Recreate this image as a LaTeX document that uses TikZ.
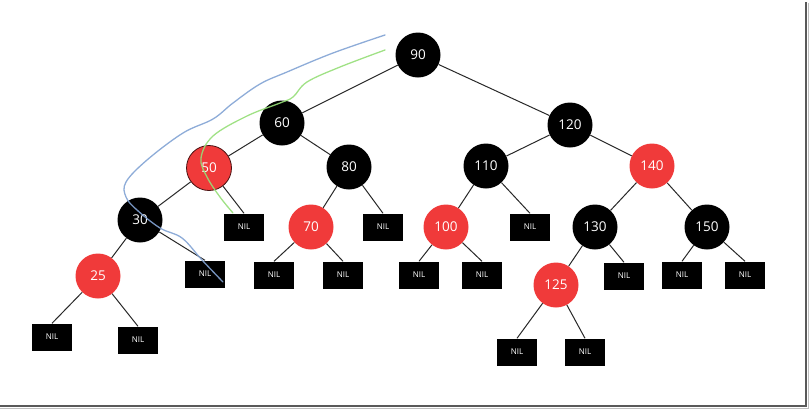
\documentclass[tikz,border=0pt]{standalone}
\usepackage{fontspec}
\setmainfont{Open Sans}
\definecolor{rbred}{RGB}{240,58,58}
\definecolor{curveblue}{RGB}{130,163,212}
\definecolor{curvegreen}{RGB}{150,222,120}
\definecolor{edgegray}{RGB}{40,40,40}
\begin{document}
\begin{tikzpicture}[x=1pt,y=-1pt,
  bnode/.style={circle,fill=black,minimum size=45pt,inner sep=0pt,text=white,font=\fontsize{13.5}{15}\selectfont},
  rnode/.style={circle,fill=rbred,minimum size=45pt,inner sep=0pt,text=white,font=\fontsize{13.5}{15}\selectfont},
  nilbox/.style={rectangle,fill=black,minimum width=40pt,minimum height=27pt,inner sep=0pt,text=white,font=\fontsize{8}{9}\selectfont},
  edge/.style={draw=edgegray,line width=1pt}]
\useasboundingbox (0,0) rectangle (809,410);
% frame shadow
\draw[line width=2.2pt,black!65] (806,2) -- (806,406) -- (0,406);
\draw[line width=1pt,black!25] (808,3) -- (808,408) -- (0,408);
% nodes
\node[bnode] (n90) at (418,55) {90};
\node[bnode] (n60) at (282,123) {60};
\node[bnode] (n120) at (570,125) {120};
\node[rnode,draw=black!70!rbred,line width=0.8pt] (n50) at (209,168) {50};
\node[bnode] (n80) at (349,167) {80};
\node[bnode] (n110) at (486,166) {110};
\node[rnode] (n140) at (652,166) {140};
\node[bnode] (n30) at (140,220) {30};
\node[rnode] (n70) at (311,227) {70};
\node[rnode] (n100) at (446,227) {100};
\node[bnode] (n130) at (595,227) {130};
\node[bnode] (n150) at (707,227) {150};
\node[rnode] (n25) at (98,276) {25};
\node[rnode] (n125) at (556,285) {125};
% NIL boxes
\node[nilbox] (x50) at (244,227) {NIL};
\node[nilbox] (x80) at (383,227) {NIL};
\node[nilbox] (x110) at (530,227) {NIL};
\node[nilbox] (x30) at (205,274) {NIL};
\node[nilbox] (x70a) at (274,275) {NIL};
\node[nilbox] (x70b) at (343,275) {NIL};
\node[nilbox] (x100a) at (419,275) {NIL};
\node[nilbox] (x100b) at (482,275) {NIL};
\node[nilbox] (x130) at (624,276) {NIL};
\node[nilbox] (x150a) at (682,275) {NIL};
\node[nilbox] (x150b) at (745,275) {NIL};
\node[nilbox] (x25a) at (52,337) {NIL};
\node[nilbox] (x25b) at (138,340) {NIL};
\node[nilbox] (x125a) at (517,352) {NIL};
\node[nilbox] (x125b) at (585,352) {NIL};
% edges
\draw[edge] (n90) -- (n60);
\draw[edge] (n90) -- (n120);
\draw[edge] (n60) -- (n50);
\draw[edge] (n60) -- (n80);
\draw[edge] (n120) -- (n110);
\draw[edge] (n120) -- (n140);
\draw[edge] (n50) -- (n30);
\draw[edge] (n50) -- (x50.north);
\draw[edge] (n80) -- (n70);
\draw[edge] (n80) -- (x80.north);
\draw[edge] (n110) -- (n100);
\draw[edge] (n110) -- (x110.north);
\draw[edge] (n140) -- (n130);
\draw[edge] (n140) -- (n150);
\draw[edge] (n30) -- (n25);
\draw[edge] (n30) -- (x30.north);
\draw[edge] (n70) -- (x70a.north);
\draw[edge] (n70) -- (x70b.north);
\draw[edge] (n100) -- (x100a.north);
\draw[edge] (n100) -- (x100b.north);
\draw[edge] (n130) -- (n125);
\draw[edge] (n130) -- (x130.north);
\draw[edge] (n150) -- (x150a.north);
\draw[edge] (n150) -- (x150b.north);
\draw[edge] (n25) -- (x25a.north);
\draw[edge] (n25) -- (x25b.north);
\draw[edge] (n125) -- (x125a.north);
\draw[edge] (n125) -- (x125b.north);
% hand-drawn curves
\draw[curvegreen,line width=1.3pt,line cap=round,line join=round,opacity=0.9]
  plot[smooth,tension=0.6] coordinates {(385,50) (340,67) (307,82) (293,97) (280,103) (247,116) (213,136) (201,158) (207,177) (220,197) (233,213)};
\draw[curveblue,line width=1.3pt,line cap=round,line join=round,opacity=0.9]
  plot[smooth,tension=0.6] coordinates {(385,35) (333,53) (287,72) (260,84) (233,103) (213,119) (183,133) (147,160) (126,182) (126,197) (137,210) (160,228) (182,238) (202,260) (223,282)};
\end{tikzpicture}
\end{document}
